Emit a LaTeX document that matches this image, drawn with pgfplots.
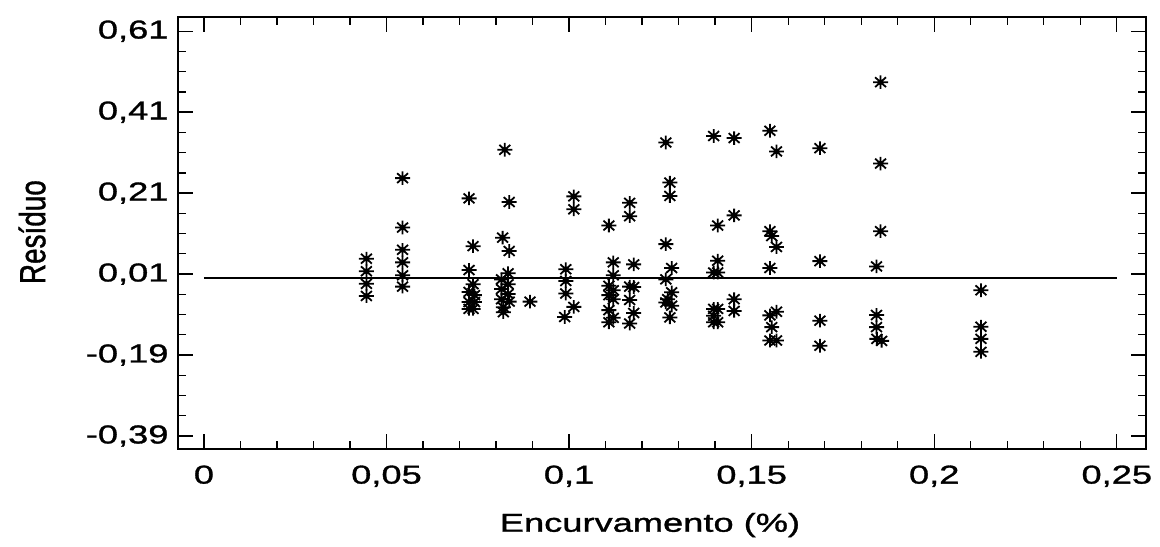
\documentclass[border=0pt]{standalone}
\usepackage{graphicx}
\usepackage{pgfplots}
\pgfplotsset{compat=1.18}
\usepackage{fontspec}
\setmainfont{Liberation Sans}[FakeBold=1.2]
\newfontfamily\widefont{Liberation Sans}[FakeStretch=1.4, FakeBold=1.2]

\pgfdeclareplotmark{star8}{%
  \pgfpathmoveto{\pgfqpoint{-1.1\pgfplotmarksize}{0pt}}%
  \pgfpathlineto{\pgfqpoint{1.1\pgfplotmarksize}{0pt}}%
  \pgfpathmoveto{\pgfqpoint{0pt}{-\pgfplotmarksize}}%
  \pgfpathlineto{\pgfqpoint{0pt}{\pgfplotmarksize}}%
  \pgfpathmoveto{\pgfqpoint{-0.8\pgfplotmarksize}{-0.72\pgfplotmarksize}}%
  \pgfpathlineto{\pgfqpoint{0.8\pgfplotmarksize}{0.72\pgfplotmarksize}}%
  \pgfpathmoveto{\pgfqpoint{-0.8\pgfplotmarksize}{0.72\pgfplotmarksize}}%
  \pgfpathlineto{\pgfqpoint{0.8\pgfplotmarksize}{-0.72\pgfplotmarksize}}%
  \pgfusepathqstroke
  \pgfpathcircle{\pgfpointorigin}{0.4\pgfplotmarksize}\pgfusepathqfill
}

\pgfplotstableread{
x y
0.0445 0.048
0.0445 0.017
0.0445 -0.014
0.0445 -0.044
0.0544 0.247
0.0544 0.125
0.0544 0.070
0.0544 0.039
0.0544 0.007
0.0544 -0.021
0.0726 0.197
0.0737 0.079
0.0726 0.020
0.0737 -0.015
0.0726 -0.034
0.0741 -0.042
0.0726 -0.059
0.0741 -0.059
0.0726 -0.076
0.0737 -0.076
0.0824 0.317
0.0836 0.188
0.0818 0.100
0.0836 0.067
0.0833 0.012
0.0815 -0.003
0.0833 -0.015
0.0815 -0.027
0.0833 -0.039
0.0815 -0.052
0.0836 -0.058
0.0820 -0.072
0.0820 -0.084
0.0893 -0.058
0.0991 0.022
0.0991 -0.007
0.0991 -0.038
0.1013 -0.071
0.0988 -0.096
0.1013 0.202
0.1013 0.170
0.1109 0.130
0.1121 0.039
0.1121 0.007
0.1109 -0.019
0.1121 -0.030
0.1109 -0.042
0.1121 -0.052
0.1109 -0.079
0.1121 -0.098
0.1109 -0.109
0.1166 0.186
0.1166 0.153
0.1177 0.034
0.1166 -0.021
0.1177 -0.022
0.1166 -0.054
0.1177 -0.086
0.1166 -0.112
0.1265 0.335
0.1276 0.236
0.1276 0.203
0.1265 0.084
0.1281 0.025
0.1265 -0.003
0.1281 -0.035
0.1270 -0.052
0.1265 -0.060
0.1281 -0.068
0.1276 -0.097
0.1396 0.351
0.1407 0.130
0.1407 0.043
0.1396 0.014
0.1407 0.014
0.1396 -0.076
0.1407 -0.076
0.1396 -0.093
0.1396 -0.109
0.1407 -0.109
0.1452 0.346
0.1452 0.155
0.1452 -0.052
0.1452 -0.081
0.1550 0.364
0.1568 0.313
0.1550 0.116
0.1555 0.104
0.1568 0.077
0.1550 0.025
0.1550 -0.092
0.1568 -0.083
0.1555 -0.121
0.1550 -0.154
0.1568 -0.154
0.1687 0.321
0.1687 0.042
0.1687 -0.105
0.1687 -0.167
0.1853 0.484
0.1853 0.283
0.1853 0.116
0.1842 0.029
0.1842 -0.091
0.1842 -0.121
0.1843 -0.150
0.1856 -0.155
0.2128 -0.030
0.2128 -0.120
0.2128 -0.150
0.2128 -0.182
}\resid

\begin{document}
\begin{tikzpicture}[font=\widefont\fontsize{26}{31}\selectfont]
\useasboundingbox (0,0) rectangle (1160bp,547bp);
\begin{axis}[
  at={(178bp,98bp)}, anchor=south west,
  width=968bp, height=432bp, scale only axis,
  xmin=-0.0071, xmax=0.258,
  ymin=-0.422, ymax=0.645,
  xtick={0,0.05,0.1,0.15,0.2,0.25},
  xticklabels={0,{0,05},{0,1},{0,15},{0,2},{0,25}},
  minor xtick={0.01,0.02,0.03,0.04,0.06,0.07,0.08,0.09,0.11,0.12,0.13,0.14,0.16,0.17,0.18,0.19,0.21,0.22,0.23,0.24},
  ytick={-0.39,-0.19,0.01,0.21,0.41,0.61},
  yticklabels={{-0,39},{-0,19},{0,01},{0,21},{0,41},{0,61}},
  minor ytick={-0.34,-0.29,-0.24,-0.14,-0.09,-0.04,0.06,0.11,0.16,0.26,0.31,0.36,0.46,0.51,0.56},
  tick align=inside,
  major tick length=15bp, minor tick length=8bp,
  every tick/.style={black, line width=1.3bp},
  axis line style={line width=1.6bp},
  xticklabel style={yshift=-13bp},
  yticklabel style={xshift=-6bp},
  xlabel={Encurvamento (\%)},
  ylabel={\scalebox{1}[1.3]{\normalfont\fontsize{28}{33}\selectfont Resíduo}},
  xlabel style={at={(axis description cs:0.4876,-0.176)}, anchor=center},
  ylabel style={at={(axis description cs:-0.1508,0.502)}, anchor=center},
  clip=false,
]
\addplot[black, line width=1.5bp, no marks] coordinates {(0,0) (0.25,0)};
\addplot[only marks, mark=star8, mark size=6.8bp, mark options={line width=1.8bp, black}] table[x=x,y=y] {\resid};
\end{axis}
\end{tikzpicture}
\end{document}
